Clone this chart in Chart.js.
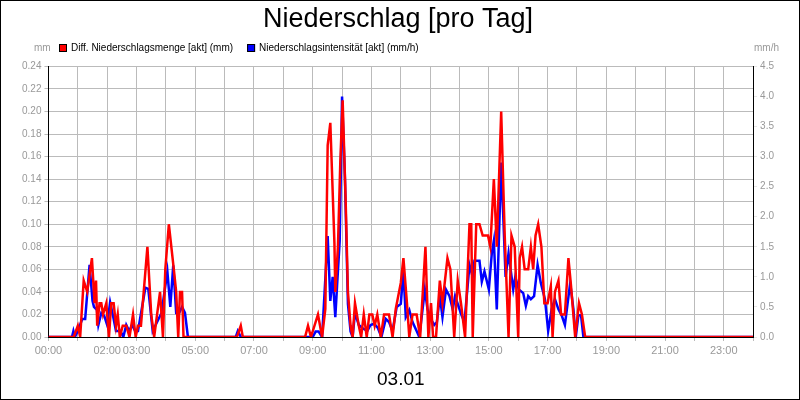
<!DOCTYPE html>
<html><head><meta charset="utf-8">
<script src="https://cdn.jsdelivr.net/npm/chart.js@4"></script>
<style>html,body{margin:0;padding:0;background:#fff}#w{width:798px;height:398px;border:1px solid #000}</style>
</head><body><div id="w"><canvas id="c"></canvas></div>
<script>
const xTickLabels = [0,2,3,5,7,9,11,13,15,17,19,21,23];
const redTimes = [0,0.86,1.0,1.08,1.2,1.32,1.48,1.57,1.62,1.66,1.74,1.8,1.86,1.97,2.06,2.14,2.22,2.3,2.36,2.43,2.53,2.65,2.76,2.88,2.97,3.05,3.15,3.37,3.5,3.6,3.7,3.8,3.9,3.98,4.1,4.27,4.35,4.42,4.48,4.55,4.6,6.42,6.55,6.62,8.74,8.84,8.94,9.18,9.32,9.43,9.51,9.6,9.74,9.77,9.86,9.94,10.02,10.12,10.2,10.29,10.36,10.44,10.57,10.65,10.74,10.84,10.93,11.03,11.11,11.2,11.32,11.43,11.6,11.72,11.83,12.0,12.09,12.21,12.29,12.4,12.54,12.66,12.84,12.94,13.03,13.1,13.2,13.33,13.42,13.59,13.69,13.82,13.94,14.05,14.19,14.34,14.4,14.45,14.57,14.68,14.79,14.97,15.05,15.17,15.27,15.42,15.54,15.67,15.77,15.88,16.0,16.05,16.13,16.22,16.34,16.43,16.51,16.59,16.68,16.79,16.89,17.0,17.11,17.17,17.25,17.37,17.46,17.59,17.71,17.8,17.94,18.07,18.17,18.28,24];
const redValues = [0,0,0.01,0,0.05,0.04,0.07,0.03,0.05,0.01,0.03,0.03,0.02,0.03,0,0.03,0.03,0.01,0.02,0,0.01,0.01,0,0.02,0,0.01,0.01,0.08,0.02,0,0.02,0.04,0,0.06,0.1,0.06,0.04,0,0.04,0.04,0,0,0.01,0,0,0.01,0,0.02,0,0.025,0.17,0.19,0.083,0.04,0.08,0.155,0.21,0.123,0.04,0.01,0,0.03,0.01,0,0.02,0,0.02,0.02,0.01,0.02,0,0.02,0.02,0,0.025,0.048,0.07,0.03,0,0.02,0.02,0,0.08,0,0.03,0,0,0.05,0.03,0.07,0.06,0,0.05,0.03,0,0.1,0.1,0,0.1,0.1,0.09,0.09,0.08,0.14,0.08,0.2,0.09,0,0.09,0.08,0,0.07,0.08,0.06,0.06,0.08,0.06,0.09,0.1,0.08,0.03,0.03,0.045,0,0.04,0.05,0.02,0.02,0.07,0.045,0,0.03,0.02,0,0];
const blueTimes = [0,0.8,0.85,0.9,1.0,1.15,1.25,1.4,1.5,1.55,1.65,1.7,1.8,1.9,2.0,2.1,2.2,2.3,2.45,2.55,2.65,2.75,2.85,2.95,3.05,3.3,3.4,3.55,3.65,3.75,3.85,4.05,4.15,4.25,4.35,4.45,4.55,4.65,4.75,6.38,6.45,6.55,9.0,9.1,9.2,9.32,9.51,9.6,9.68,9.77,9.83,9.92,10.0,10.1,10.2,10.29,10.36,10.44,10.57,10.69,10.86,10.97,11.09,11.22,11.34,11.49,11.6,11.72,11.86,12.0,12.09,12.17,12.29,12.4,12.54,12.63,12.74,12.82,12.91,13.02,13.14,13.23,13.33,13.42,13.54,13.66,13.77,13.85,13.96,14.07,14.17,14.34,14.45,14.51,14.68,14.76,14.85,15.0,15.1,15.17,15.27,15.42,15.57,15.67,15.83,15.9,16.02,16.17,16.26,16.34,16.43,16.54,16.66,16.77,16.91,17.02,17.14,17.25,17.37,17.48,17.59,17.77,17.88,17.96,18.05,18.14,18.22,24];
const blueValues = [0,0,0.1,0,0.1,0.3,0.3,1.2,0.6,0.5,0.45,0.2,0.4,0.35,0.2,0.58,0.35,0.1,0.1,0,0.2,0.1,0.2,0.1,0.1,0.82,0.8,0.1,0.2,0.3,0.4,1.09,0.5,1.19,0.4,0.4,0.5,0.4,0,0,0.1,0,0,0.09,0.09,0,1.68,0.6,1.0,0.33,0.85,1.6,4.0,2.6,0.55,0.09,0,0.4,0.2,0.15,0.1,0.2,0.22,0.15,0,0.3,0.25,0.1,0.5,0.55,1.1,0.33,0.45,0.25,0.1,0,0.45,0.79,0.46,0.3,0.2,0.25,0.68,0.33,0.79,0.68,0.46,0.68,0.52,0.36,0.25,1.2,1.0,1.27,1.27,0.92,1.09,0.79,1.39,1.6,0.46,2.9,1.0,1.39,0.79,1.0,0.79,0.73,0.52,0.68,0.63,0.68,1.2,0.9,0.63,0.1,0.47,0.63,0.46,0.36,0.2,0.9,0.46,0,0.36,0.36,0,0];
const leftTicks = [0,0.02,0.04,0.06,0.08,0.10,0.12,0.14,0.16,0.18,0.20,0.22,0.24];
const rightTicks = [0,0.5,1.0,1.5,2.0,2.5,3.0,3.5,4.0,4.5];
const seriesNames = ['Diff. Niederschlagsmenge [akt] (mm)', 'Niederschlagsintensität [akt] (mm/h)'];

const FONT = '"Liberation Sans", Arial, sans-serif';
const pts = (t, v) => t.map((x, i) => ({x, y: v[i]}));
const headPlugin = {
  id: 'head',
  afterDraw(ch) {
    const c = ch.ctx, a = ch.chartArea;
    c.save(); c.font = '10px ' + FONT; c.textBaseline = 'middle';
    const yy = 47;
    c.fillStyle = '#999';
    c.textAlign = 'left'; c.fillText('mm', 33, yy);
    c.textAlign = 'right'; c.fillText('mm/h', 778, yy);
    c.textAlign = 'left';
    let x = 58;
    ch.data.datasets.forEach(ds => {
      c.fillStyle = ds.borderColor; c.fillRect(x, yy - 4, 8, 8);
      c.strokeStyle = '#000'; c.lineWidth = 1; c.strokeRect(x + 0.5, yy - 3.5, 7, 7);
      c.fillStyle = '#000'; c.fillText(ds.label, x + 12, yy);
      x += 12 + c.measureText(ds.label).width + 14;
    });
    c.restore();
  }
};
new Chart(document.getElementById('c'), {
  type: 'line',
  data: { datasets: [
    { label: seriesNames[0], data: pts(redTimes, redValues), borderColor: '#ff0000', backgroundColor: '#ff0000', borderWidth: 2.5, pointRadius: 0, yAxisID: 'y', tension: 0 },
    { label: seriesNames[1], data: pts(blueTimes, blueValues), borderColor: '#0000ff', backgroundColor: '#0000ff', borderWidth: 2.5, pointRadius: 0, yAxisID: 'y1', tension: 0 }
  ]},
  plugins: [headPlugin],
  options: {
    responsive: true, maintainAspectRatio: false, animation: false,
    layout: { padding: { left: 18, right: 22, top: 0, bottom: 4 } },
    plugins: {
      title: { display: true, text: 'Niederschlag [pro Tag]', color: '#000', font: { size: 27, family: FONT, weight: 'normal' }, padding: { top: 2, bottom: 31 } },
      legend: { display: false },
      tooltip: { enabled: false }
    },
    scales: {
      x: { type: 'linear', min: 0, max: 24,
        afterBuildTicks: s => { s.ticks = Array.from({length: 25}, (_, i) => ({value: i})); },
        ticks: { autoSkip: false, maxRotation: 0, color: '#999', font: { size: 11, family: FONT },
          callback: v => xTickLabels.includes(v) ? String(v).padStart(2, '0') + ':00' : '' },
        grid: { color: '#bbb', drawTicks: true, tickLength: 4 }, border: { color: '#000' },
        title: { display: true, text: '03.01', color: '#000', font: { size: 19, family: FONT }, padding: { top: 8 } } },
      y: { position: 'left', min: 0, max: 0.24,
        afterBuildTicks: s => { s.ticks = leftTicks.map(value => ({value})); },
        ticks: { color: '#999', font: { size: 10, family: FONT }, callback: v => v.toFixed(2) },
        grid: { color: '#bbb', tickLength: 4 }, border: { color: '#000' } },
      y1: { position: 'right', min: 0, max: 4.5,
        afterBuildTicks: s => { s.ticks = rightTicks.map(value => ({value})); },
        ticks: { color: '#999', font: { size: 10, family: FONT }, callback: v => v.toFixed(1) },
        grid: { drawOnChartArea: false, tickLength: 4 }, border: { color: '#000' } }
    }
  }
});
</script></body></html>
